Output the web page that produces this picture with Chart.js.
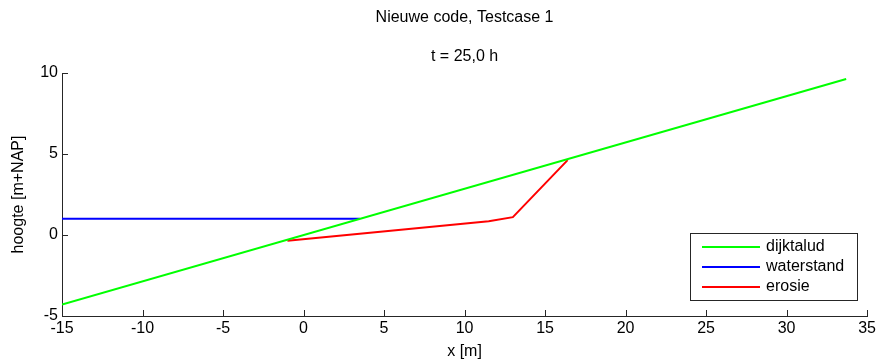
<!DOCTYPE html>
<html>
<head>
<meta charset="utf-8">
<script src="https://cdn.jsdelivr.net/npm/chart.js@4.4.1/dist/chart.umd.min.js"></script>
<style>
  html, body { margin: 0; padding: 0; background: #fff; }
  #wrap { width: 879px; height: 363px; position: relative; }
</style>
</head>
<body>
<div id="wrap"><canvas id="profile"></canvas></div>
<script>
// Dike profile data (x in m, height in m+NAP)
const dijkX = [-15, 33.7];
const dijkY = [-4.29, 9.63];
const waterX = [-15, 3.5];
const waterY = [1, 1];
const erosieX = [-1, 11.5, 13, 16.4];
const erosieY = [-0.35, 0.85, 1.1, 4.62];

const xTicks = [-15, -10, -5, 0, 5, 10, 15, 20, 25, 30, 35];
const yTicks = [-5, 0, 5, 10];

const FONT = 'Liberation Sans, Arial, sans-serif';
const FSIZE = 16;

function pts(xs, ys) {
    return xs.map((x, i) => ({ x: x, y: ys[i] }));
}

// Matlab-style decorations: inward ticks, titles, axis labels, boxed legend
const matlabAxes = {
    id: 'matlabAxes',
    afterDraw(chart) {
        const ctx = chart.ctx;
        const area = chart.chartArea;
        const xs = chart.scales.x;
        const ys = chart.scales.y;
        ctx.save();
        ctx.strokeStyle = '#262626';
        ctx.lineWidth = 1;
        ctx.beginPath();
        xTicks.forEach(v => {
            const px = Math.round(xs.getPixelForValue(v)) + 0.5;
            ctx.moveTo(px, area.bottom);
            ctx.lineTo(px, area.bottom - 6);
        });
        yTicks.forEach(v => {
            const py = Math.round(ys.getPixelForValue(v)) + 0.5;
            ctx.moveTo(area.left, py);
            ctx.lineTo(area.left + 6, py);
        });
        ctx.stroke();

        // titles
        ctx.fillStyle = '#000';
        ctx.textAlign = 'center';
        ctx.textBaseline = 'middle';
        ctx.font = FSIZE + 'px ' + FONT;
        const cx = (area.left + area.right) / 2;
        ctx.fillText('Nieuwe code, Testcase 1', cx, 18);
        ctx.fillText('t = 25,0 h', cx, 57);

        // axis labels
        ctx.fillText('x [m]', cx, 352);
        ctx.save();
        ctx.translate(19, (area.top + area.bottom) / 2);
        ctx.rotate(-Math.PI / 2);
        ctx.fillText('hoogte [m+NAP]', 0, 0);
        ctx.restore();

        // legend box
        const lx = 690, ly = 233, lw = 167, lh = 67;
        ctx.fillStyle = '#fff';
        ctx.fillRect(lx, ly, lw, lh);
        ctx.strokeStyle = '#262626';
        ctx.strokeRect(lx + 0.5, ly + 0.5, lw, lh);
        ctx.textAlign = 'left';
        chart.data.datasets.forEach((ds, i) => {
            const rowY = ly + 14 + i * 20;
            ctx.strokeStyle = ds.borderColor;
            ctx.lineWidth = 2;
            ctx.beginPath();
            ctx.moveTo(lx + 12, rowY);
            ctx.lineTo(lx + 70, rowY);
            ctx.stroke();
            ctx.fillStyle = '#000';
            ctx.fillText(ds.label, lx + 76, rowY);
        });
        ctx.restore();
    }
};

const lineSet = (label, data, color) => ({
    label: label,
    data: data,
    borderColor: color,
    backgroundColor: color,
    borderWidth: 2,
    showLine: true,
    pointRadius: 0,
    tension: 0
});

new Chart(document.getElementById('profile'), {
    type: 'scatter',
    data: {
        datasets: [
            lineSet('dijktalud', pts(dijkX, dijkY), '#00ff00'),
            lineSet('waterstand', pts(waterX, waterY), '#0000ff'),
            lineSet('erosie', pts(erosieX, erosieY), '#ff0000')
        ]
    },
    options: {
        responsive: true,
        maintainAspectRatio: false,
        animation: false,
        layout: { padding: { top: 73, right: 9, bottom: 0, left: 0 } },
        plugins: {
            legend: { display: false },
            tooltip: { enabled: false },
            title: { display: false }
        },
        scales: {
            x: {
                type: 'linear',
                min: -15,
                max: 35,
                afterBuildTicks: s => { s.ticks = xTicks.map(v => ({ value: v })); },
                afterFit: s => { s.height = 47; },
                grid: { display: false, drawTicks: false },
                border: { display: true, color: '#262626', width: 1 },
                ticks: { color: '#000', font: { family: FONT, size: FSIZE }, padding: 3 }
            },
            y: {
                type: 'linear',
                min: -5,
                max: 10,
                afterBuildTicks: s => { s.ticks = yTicks.map(v => ({ value: v })); },
                afterFit: s => { s.width = 62; },
                grid: { display: false, drawTicks: false },
                border: { display: true, color: '#262626', width: 1 },
                ticks: { color: '#000', font: { family: FONT, size: FSIZE }, padding: 4 }
            }
        }
    },
    plugins: [matlabAxes]
});
</script>
</body>
</html>
